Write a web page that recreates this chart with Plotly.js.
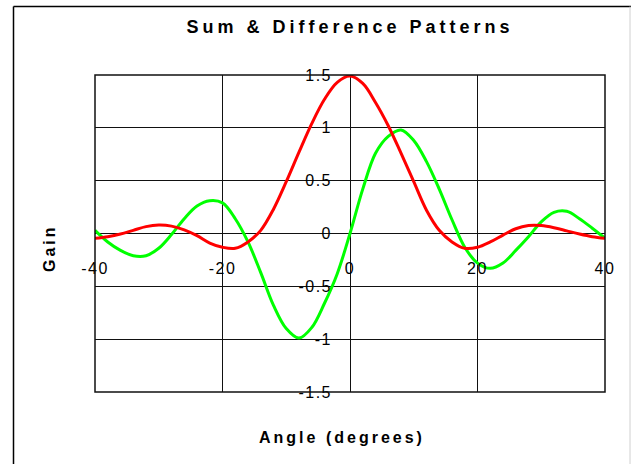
<!DOCTYPE html>
<html>
<head>
<meta charset="utf-8">
<script src="https://cdn.plot.ly/plotly-3.0.1.min.js"></script>
<style>
html, body { margin: 0; padding: 0; background: #fff; }
#chart { width: 631px; height: 464px; }
.gtitle { letter-spacing: 4px; }
.annotation-text { letter-spacing: 3px; }
.xtick text, .ytick text { letter-spacing: 1.5px; }
</style>
</head>
<body>
<div id="chart"></div>
<script>
// Angle (degrees)
const angles = [-40,-38,-36,-34,-32,-30,-28,-26,-24,-22,-20,-18,-16,-14,-12,-10,-8,-6,-4,-2,0,
                2,4,6,8,10,12,14,16,18,20,22,24,26,28,30,32,34,36,38,40];
// Sum pattern (red)
const sumGain = [-0.045,-0.03,-0.005,0.03,0.065,0.08,0.07,0.035,-0.02,-0.09,-0.13,-0.14,-0.08,0.03,0.23,0.49,0.77,1.04,1.27,1.43,1.49,
                 1.42,1.24,1.02,0.76,0.49,0.22,0.03,-0.08,-0.14,-0.13,-0.08,-0.015,0.045,0.075,0.075,0.055,0.025,-0.005,-0.03,-0.045];
// Difference pattern (green)
const diffGain = [0.03,-0.08,-0.16,-0.21,-0.21,-0.14,-0.01,0.14,0.26,0.31,0.29,0.14,-0.08,-0.37,-0.68,-0.90,-0.99,-0.89,-0.66,-0.38,0.0,
                  0.42,0.76,0.92,0.98,0.88,0.68,0.42,0.13,-0.13,-0.28,-0.33,-0.28,-0.16,-0.03,0.11,0.20,0.21,0.14,0.05,-0.045];

const xTickVals = [-40,-20,0,20,40];
const xTickText = ['-40','-20','0','20','40'];
const yTickVals = [-1.5,-1,-0.5,0,0.5,1,1.5];
const yTickText = ['-1.5','-1','-0.5','0','0.5','1','1.5'];

const chartTitle = 'Sum &amp; Difference Patterns';
const xTitle = 'Angle (degrees)';
const yTitle = 'Gain';

const tickFont = { family: 'Liberation Sans, Arial, sans-serif', size: 16, color: '#000' };
const boldFont = { family: 'Liberation Sans, Arial, sans-serif', size: 16, color: '#000', weight: 'bold' };

const traces = [
  { x: angles, y: diffGain, type: 'scatter', mode: 'lines', name: 'Difference',
    line: { color: '#00ff00', width: 3, shape: 'spline', smoothing: 1 }, hoverinfo: 'skip' },
  { x: angles, y: sumGain, type: 'scatter', mode: 'lines', name: 'Sum',
    line: { color: '#ff0000', width: 3, shape: 'spline', smoothing: 1 }, hoverinfo: 'skip' }
];

const PX = v => (v - 95) / 510;
const PY = v => (392 - v) / 317;

const layout = {
  width: 631, height: 464,
  margin: { l: 95, r: 26, t: 75, b: 72, pad: 0 },
  paper_bgcolor: '#fff', plot_bgcolor: '#fff',
  showlegend: false,
  title: { text: chartTitle, x: 0.5, xref: 'paper', xanchor: 'center',
           y: 1 - 27 / 464, yref: 'container', yanchor: 'middle',
           font: { family: 'Liberation Sans, Arial, sans-serif', size: 18, color: '#000', weight: 'bold' } },
  xaxis: {
    range: [-40, 40], tickvals: xTickVals, ticktext: xTickText,
    anchor: 'free', position: 0.5,
    showgrid: true, gridcolor: '#111', gridwidth: 1,
    zeroline: false, showline: false, ticks: '',
    ticklabelstandoff: 23, tickfont: tickFont, fixedrange: true
  },
  yaxis: {
    range: [-1.5, 1.5], tickvals: yTickVals, ticktext: yTickText,
    anchor: 'free', position: 0.5,
    showgrid: true, gridcolor: '#111', gridwidth: 1,
    zeroline: false, showline: false, ticks: '',
    ticklabelstandoff: 18, tickfont: tickFont, fixedrange: true
  },
  shapes: [
    { type: 'rect', xref: 'paper', yref: 'paper', x0: 0, x1: 1, y0: 0, y1: 1,
      line: { color: '#111', width: 1.5 }, layer: 'above' },
    { type: 'line', xref: 'paper', yref: 'paper', x0: PX(13.5), x1: PX(13.5), y0: PY(6.5), y1: PY(470),
      line: { color: '#000', width: 1.5 } },
    { type: 'line', xref: 'paper', yref: 'paper', x0: PX(13.5), x1: PX(631), y0: PY(6.5), y1: PY(6.5),
      line: { color: '#000', width: 1.5 } },
    { type: 'line', xref: 'paper', yref: 'paper', x0: PX(630), x1: PX(630), y0: PY(6.5), y1: PY(470),
      line: { color: '#d0d0d0', width: 1 } }
  ],
  annotations: [
    { text: xTitle, xref: 'paper', yref: 'paper', x: PX(342), y: PY(437),
      xanchor: 'center', yanchor: 'middle', showarrow: false, font: boldFont },
    { text: yTitle, xref: 'paper', yref: 'paper', x: PX(50), y: PY(248),
      xanchor: 'center', yanchor: 'middle', textangle: -90, showarrow: false, font: boldFont }
  ]
};

Plotly.newPlot('chart', traces, layout, { staticPlot: true, displayModeBar: false });
</script>
</body>
</html>
